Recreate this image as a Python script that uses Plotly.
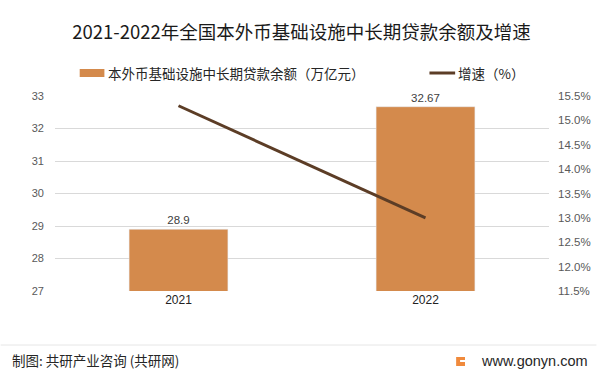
import plotly.graph_objects as go

years = ["2021", "2022"]
balance = [28.9, 32.67]          # 万亿元
growth = [15.3, 13.0]            # %
balance_labels = ["28.9", "32.67"]

title = "2021-2022年全国本外币基础设施中长期贷款余额及增速"
bar_name = "本外币基础设施中长期贷款余额（万亿元）"
line_name = "增速（%）"
source = "制图: 共研产业咨询 (共研网)"
site = "www.gonyn.com"

CJK = "Noto Sans CJK SC"
BAR = "#D48A4C"
LINE = "#5C3D26"


def px(x):
    return (x - 55) / 500


def py(y):
    return (291 - y) / 195


fig = go.Figure()
fig.add_trace(go.Bar(
    x=years, y=balance, marker_color=BAR, width=0.4,
    text=balance_labels, textposition="outside", cliponaxis=False,
    textfont=dict(size=11.5, color="#404040", family="Liberation Sans"),
    name=bar_name, showlegend=False, yaxis="y",
))
fig.add_trace(go.Scatter(
    x=years, y=growth, mode="lines", line=dict(color=LINE, width=3),
    name=line_name, showlegend=False, yaxis="y2",
))

# faint watermarks
wm = [(95, 215), (345, 90), (455, 190), (250, 325), (500, 350), (590, 110)]
for (wx, wy) in wm:
    fig.add_annotation(xref="paper", yref="paper", x=px(wx), y=py(wy), showarrow=False,
                       text="<b>G共研产业咨询</b><br>w w w . g o n y n . c o m",
                       textangle=-14, font=dict(size=19, color="rgba(0,0,0,0.025)", family=CJK))

fig.update_layout(
    width=603, height=375,
    margin=dict(l=55, r=48, t=96, b=84),
    paper_bgcolor="white", plot_bgcolor="white",
    bargap=0.6,
    title=dict(text=title, x=0.5, xanchor="center", y=1 - 33 / 375, yanchor="middle",
               font=dict(family=CJK, size=18.5, color="#1a1a1a")),
    xaxis=dict(showline=False, ticks="", tickfont=dict(size=12, color="#222", family="Liberation Sans"),
               showgrid=False),
    yaxis=dict(range=[27, 33], dtick=1, showgrid=True, gridcolor="#D9D9D9", gridwidth=1,
               zeroline=False, ticks="", tickfont=dict(size=11, color="#595959", family="Liberation Sans"),
               ticklabelstandoff=10),
    yaxis2=dict(range=[11.5, 15.5], dtick=0.5, overlaying="y", side="right", showgrid=False,
                zeroline=False, ticksuffix="%", tickformat=".1f", ticks="",
                tickfont=dict(size=11.5, color="#595959", family="Liberation Sans"),
                ticklabelstandoff=8),
)

# manual legend
fig.add_shape(type="rect", xref="paper", yref="paper",
              x0=px(80), x1=px(105), y0=py(77), y1=py(69), fillcolor=BAR, line_width=0)
fig.add_annotation(xref="paper", yref="paper", x=px(107), y=py(73),
                   xanchor="left", yanchor="middle", showarrow=False, text=bar_name,
                   font=dict(family=CJK, size=13.5, color="#262626"))
fig.add_shape(type="line", xref="paper", yref="paper",
              x0=px(434), x1=px(460), y0=py(73), y1=py(73), line=dict(color=LINE, width=3))
fig.add_annotation(xref="paper", yref="paper", x=px(461), y=py(73),
                   xanchor="left", yanchor="middle", showarrow=False, text=line_name,
                   font=dict(family=CJK, size=13.5, color="#262626"))

# footer
fig.add_shape(type="line", xref="paper", yref="paper",
              x0=px(0), x1=px(603), y0=py(345), y1=py(345), line=dict(color="#E6E6E6", width=1))
fig.add_annotation(xref="paper", yref="paper", x=px(9), y=py(360),
                   xanchor="left", yanchor="middle", showarrow=False, text=source,
                   font=dict(family=CJK, size=13.5, color="#262626"))
fig.add_shape(type="rect", xref="paper", yref="paper",
              x0=px(461), x1=px(470), y0=py(366), y1=py(357), fillcolor="#F08A3C", line_width=0)
fig.add_shape(type="rect", xref="paper", yref="paper",
              x0=px(465), x1=px(470), y0=py(362), y1=py(360), fillcolor="white", line_width=0)
fig.add_annotation(xref="paper", yref="paper", x=px(596), y=py(361),
                   xanchor="right", yanchor="middle", showarrow=False, text=site,
                   font=dict(family="Liberation Sans", size=14.5, color="#262626"))

fig.write_html("out.html", config={"displayModeBar": False},
               post_script="document.body.style.margin='0';")
